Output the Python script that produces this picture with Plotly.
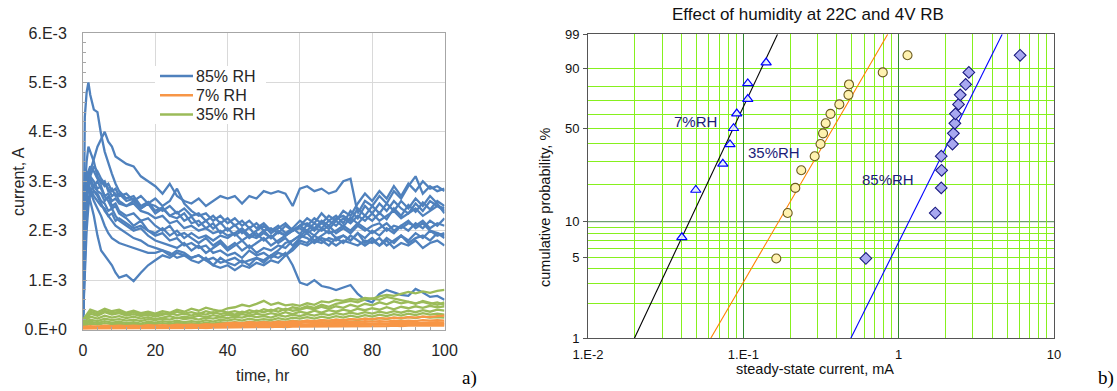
import math
import plotly.graph_objects as go

# ================= Panel a): current (mA, i.e. 1E-3 A) vs time =================
t_hr = [0, 0.5, 1, 1.5, 2, 3, 4, 5, 6, 7, 8, 9, 10,
        12, 14, 16, 18, 20, 22, 24, 26, 28, 30, 32, 34, 36, 38, 40, 42, 44, 46, 48, 50,
        52, 54, 56, 58, 60, 62, 64, 66, 68, 70, 72, 74, 76, 78, 80, 82, 84, 86, 88, 90,
        92, 94, 96, 98, 100]

rh85_1 = [0.3, 4.3, 4.8, 5.0, 4.75, 4.45, 4.4, 3.95, 3.6, 3.35, 3.15, 2.95, 2.8,
          2.65, 2.7, 2.5, 2.58, 2.4, 2.47, 2.3, 2.38, 2.2, 2.28, 2.1, 2.2, 2.04, 2.17, 2.0, 2.12,
          1.95, 2.06, 1.88, 2.0, 1.85, 1.97, 1.9, 2.05, 1.93, 2.12, 2.0, 2.16, 2.03, 2.2, 2.08,
          2.27, 2.14, 2.3, 2.2, 2.36, 2.23, 2.45, 2.3, 2.52, 2.38, 2.57, 2.43, 2.6, 2.5]
rh85_2 = [0.4, 1.9, 2.6, 3.0, 3.2, 3.45, 3.7, 3.85, 4.0, 3.8, 3.7, 3.5, 3.45,
          3.35, 3.3, 3.1, 3.0, 2.9, 2.75, 2.95, 2.7, 2.6, 2.55, 2.65, 2.5, 2.6, 2.7, 2.65, 2.7,
          2.55, 2.7, 2.65, 2.8, 2.75, 2.8, 2.75, 2.5, 2.85, 2.9, 2.8, 2.85, 2.75, 2.8, 3.0,
          3.05, 2.35, 2.6, 2.5, 2.7, 2.55, 2.8, 2.65, 2.9, 3.1, 2.75, 2.9, 2.8, 2.85]
rh85_3 = [0.5, 2.8, 3.4, 3.7, 3.6, 3.4, 3.1, 2.95, 3.0, 2.8, 2.85, 2.7, 2.75,
          2.6, 2.65, 2.45, 2.55, 2.35, 2.45, 2.3, 2.25, 2.35, 2.15, 2.2, 2.05, 2.15, 1.95, 2.05, 1.9,
          2.0, 1.85, 1.95, 1.8, 1.9, 1.75, 1.85, 1.7, 1.85, 1.95, 1.8, 1.9, 2.0, 1.85, 1.9,
          1.8, 1.95, 1.75, 1.85, 1.7, 1.8, 1.65, 1.75, 1.7, 1.8, 1.65, 1.75, 1.8, 1.7]
rh85_4 = [0.2, 1.5, 2.4, 2.7, 2.6, 2.3, 1.9, 1.6, 1.5, 1.4, 1.3, 1.15, 1.05,
          1.1, 0.98, 1.15, 1.3, 1.4, 1.5, 1.45, 1.55, 1.5, 1.45, 1.5, 1.4, 1.45, 1.35, 1.4, 1.45,
          1.35, 1.4, 1.45, 1.4, 1.5, 1.45, 1.55, 1.3, 0.95, 0.9, 1.0, 0.88, 0.85, 0.8, 0.85,
          0.9, 0.72, 0.6, 0.55, 0.72, 0.8, 0.75, 0.7, 0.68, 0.82, 0.75, 0.66, 0.68, 0.6]
rh85_5 = [0.3, 2.2, 2.8, 2.9, 2.8, 2.6, 2.45, 2.3, 2.1, 1.95, 1.85, 1.8, 1.75,
          1.7, 1.65, 1.6, 1.55, 1.55, 1.6, 1.5, 1.6, 1.55, 1.45, 1.5, 1.4, 1.3, 1.45, 1.35, 1.3,
          1.4, 1.3, 1.45, 1.35, 1.5, 1.6, 1.75, 1.8, 1.9, 1.85, 1.75, 1.85, 1.8, 1.7, 1.8,
          1.75, 1.7, 1.8, 1.75, 1.85, 1.7, 1.8, 1.9, 1.75, 1.85, 1.9, 1.8, 1.95, 1.9]
rh85_6 = [0.4, 2.5, 3.1, 3.2, 3.05, 2.9, 2.8, 2.75, 2.6, 2.7, 2.5, 2.55, 2.4,
          2.3, 2.35, 2.2, 2.25, 2.1, 2.0, 2.1, 1.9, 1.95, 1.85, 1.75, 1.85, 1.7, 1.8, 1.65, 1.75,
          1.6, 1.7, 1.55, 1.65, 1.6, 1.7, 1.65, 1.8, 1.9, 2.0, 1.9, 2.05, 1.95, 2.0, 2.1,
          2.0, 2.15, 2.05, 1.95, 2.05, 2.15, 2.0, 2.1, 2.2, 2.05, 2.15, 2.0, 1.95, 1.85]
rh85_7 = [0.2, 2.0, 2.7, 3.0, 3.1, 3.0, 2.85, 2.9, 2.7, 2.75, 2.6, 2.65, 2.55,
          2.5, 2.6, 2.45, 2.55, 2.5, 2.4, 2.5, 2.35, 2.45, 2.3, 2.35, 2.2, 2.3, 2.15, 2.25, 2.1,
          2.2, 2.05, 2.15, 2.0, 2.05, 1.95, 2.1, 2.0, 2.1, 2.15, 2.05, 2.2, 2.1, 2.25, 2.3,
          2.2, 2.45, 2.3, 2.5, 2.35, 2.55, 2.4, 2.6, 2.45, 2.65, 2.5, 2.7, 2.55, 2.35]
rh85_8 = [0.3, 1.6, 2.3, 2.6, 2.8, 2.9, 3.0, 2.85, 2.7, 2.6, 2.45, 2.5, 2.35,
          2.25, 2.1, 2.2, 2.0, 1.9, 1.95, 1.8, 1.85, 1.7, 1.75, 1.65, 1.7, 1.55, 1.6, 1.5, 1.55,
          1.45, 1.6, 1.5, 1.55, 1.45, 1.55, 1.5, 1.65, 1.8, 1.75, 1.9, 1.8, 1.7, 1.85, 1.75,
          1.9, 1.8, 1.7, 1.8, 1.7, 1.85, 1.75, 1.9, 1.8, 1.95, 1.85, 2.0, 1.9, 1.95]
rh85_9 = [0.3, 2.3, 2.9, 3.1, 3.0, 2.8, 2.75, 2.6, 2.55, 2.4, 2.45, 2.3, 2.2,
          2.1, 2.0, 2.05, 1.9, 1.8, 1.75, 1.7, 1.65, 1.75, 1.6, 1.7, 1.55, 1.65, 1.75, 1.6, 1.7,
          1.8, 1.65, 1.75, 1.85, 1.7, 1.8, 1.9, 2.0, 2.1, 2.0, 2.15, 2.05, 2.2, 2.1, 2.25,
          2.15, 2.3, 2.2, 2.35, 2.2, 2.3, 2.4, 2.25, 2.35, 2.45, 2.3, 2.4, 2.5, 2.4]
rh85_10 = [0.4, 2.6, 3.0, 2.95, 2.85, 2.7, 2.6, 2.5, 2.45, 2.3, 2.35, 2.2, 2.25,
           2.15, 2.05, 2.1, 2.0, 1.95, 2.05, 1.9, 2.0, 1.85, 1.95, 1.85, 1.9, 1.8, 1.9, 1.85, 1.95,
           1.8, 1.9, 1.85, 1.95, 1.85, 2.0, 1.9, 2.0, 2.05, 1.95, 2.05, 2.0, 2.1, 1.95, 2.05,
           1.95, 2.1, 2.0, 2.1, 2.15, 2.0, 2.1, 2.05, 2.15, 2.1, 2.2, 2.05, 2.15, 2.1]
rh85_11 = [0.3, 2.4, 2.9, 3.2, 3.3, 3.2, 3.05, 3.0, 2.9, 2.95, 2.8, 2.85, 2.7,
           2.75, 2.6, 2.7, 2.55, 2.65, 2.5, 2.6, 2.85, 2.55, 2.4, 2.3, 2.35, 2.2, 2.3, 2.15, 2.25,
           2.1, 2.2, 2.05, 2.15, 2.0, 2.1, 1.95, 2.05, 2.2, 2.1, 2.25, 2.15, 2.3, 2.2, 2.4,
           2.3, 2.55, 2.75, 2.6, 2.8, 2.65, 2.9, 2.7, 2.95, 2.8, 3.0, 2.85, 2.9, 2.8]
rh85_12 = [0.2, 1.2, 2.0, 2.5, 2.75, 2.8, 2.7, 2.55, 2.4, 2.3, 2.2, 2.1, 2.05,
           1.95, 1.85, 1.8, 1.7, 1.65, 1.6, 1.55, 1.45, 1.5, 1.4, 1.35, 1.45, 1.3, 1.25, 1.3, 1.2,
           1.3, 1.25, 1.35, 1.3, 1.4, 1.35, 1.5, 1.6, 1.75, 1.7, 1.8, 1.75, 1.85, 1.8, 1.9,
           1.8, 1.95, 1.85, 2.0, 1.9, 2.05, 1.95, 2.1, 2.0, 2.15, 2.05, 2.2, 2.1, 2.25]
rh85_13 = [0.3, 1.8, 2.6, 2.9, 3.1, 3.3, 3.2, 3.05, 2.95, 2.85, 2.7, 2.75, 2.6,
           2.5, 2.55, 2.4, 2.35, 2.25, 2.3, 2.15, 2.2, 2.05, 2.1, 2.0, 2.05, 1.95, 2.0, 1.9, 1.95,
           2.05, 1.9, 2.0, 2.1, 1.95, 2.05, 2.15, 2.0, 2.1, 2.25, 2.15, 2.35, 2.2, 2.3, 2.15,
           2.4, 2.25, 2.5, 2.35, 2.55, 2.4, 2.6, 2.45, 2.35, 2.55, 2.4, 2.6, 2.5, 2.45]

t_low = [0, 2, 4, 6, 8, 10, 12, 14, 16, 18, 20, 22, 24, 26, 28, 30, 32, 34, 36, 38, 40,
         42, 44, 46, 48, 50, 52, 54, 56, 58, 60, 62, 64, 66, 68, 70, 72, 74, 76, 78, 80,
         82, 84, 86, 88, 90, 92, 94, 96, 98, 100]

rh35_1 = [0.2, 0.4, 0.35, 0.42, 0.37, 0.4, 0.34, 0.38, 0.33, 0.36, 0.32, 0.37, 0.34, 0.4, 0.36,
          0.42, 0.38, 0.44, 0.4, 0.37, 0.43, 0.45, 0.5, 0.47, 0.52, 0.58, 0.5, 0.54, 0.49, 0.51,
          0.48, 0.53, 0.5, 0.57, 0.55, 0.6, 0.58, 0.62, 0.6, 0.64, 0.62, 0.67, 0.7, 0.68, 0.72,
          0.76, 0.73, 0.77, 0.74, 0.78, 0.8]
rh35_2 = [0.15, 0.32, 0.28, 0.35, 0.3, 0.33, 0.28, 0.31, 0.27, 0.3, 0.26, 0.3, 0.33, 0.29, 0.32,
          0.28, 0.33, 0.3, 0.35, 0.31, 0.34, 0.3, 0.36, 0.33, 0.38, 0.35, 0.4, 0.36, 0.42, 0.38,
          0.4, 0.44, 0.41, 0.46, 0.42, 0.47, 0.44, 0.5, 0.46, 0.52, 0.49, 0.55, 0.51, 0.57, 0.53,
          0.56, 0.52, 0.58, 0.54, 0.5, 0.55]
rh35_3 = [0.12, 0.26, 0.22, 0.28, 0.24, 0.27, 0.23, 0.26, 0.22, 0.25, 0.21, 0.24, 0.27, 0.23, 0.26,
          0.24, 0.28, 0.25, 0.29, 0.26, 0.3, 0.27, 0.31, 0.28, 0.32, 0.29, 0.33, 0.3, 0.35, 0.31,
          0.36, 0.33, 0.38, 0.34, 0.39, 0.36, 0.4, 0.37, 0.42, 0.39, 0.43, 0.4, 0.45, 0.41, 0.46,
          0.43, 0.47, 0.44, 0.48, 0.45, 0.47]
rh35_4 = [0.1, 0.2, 0.17, 0.22, 0.19, 0.21, 0.18, 0.2, 0.17, 0.21, 0.19, 0.22, 0.2, 0.24, 0.21,
          0.23, 0.2, 0.24, 0.22, 0.25, 0.23, 0.26, 0.24, 0.28, 0.25, 0.27, 0.24, 0.29, 0.26, 0.3,
          0.27, 0.31, 0.28, 0.32, 0.29, 0.33, 0.3, 0.34, 0.31, 0.35, 0.32, 0.36, 0.33, 0.37, 0.34,
          0.38, 0.35, 0.39, 0.36, 0.4, 0.38]
rh35_5 = [0.08, 0.16, 0.13, 0.17, 0.14, 0.16, 0.13, 0.15, 0.12, 0.16, 0.14, 0.17, 0.15, 0.18, 0.15,
          0.17, 0.15, 0.19, 0.16, 0.2, 0.18, 0.21, 0.18, 0.22, 0.19, 0.21, 0.19, 0.23, 0.2, 0.24,
          0.22, 0.25, 0.22, 0.26, 0.23, 0.27, 0.24, 0.28, 0.25, 0.29, 0.26, 0.3, 0.27, 0.31, 0.28,
          0.32, 0.29, 0.33, 0.3, 0.32, 0.3]
rh35_6 = [0.18, 0.36, 0.31, 0.38, 0.33, 0.36, 0.31, 0.35, 0.3, 0.34, 0.29, 0.33, 0.3, 0.36, 0.32,
          0.35, 0.31, 0.37, 0.33, 0.38, 0.34, 0.37, 0.33, 0.39, 0.35, 0.41, 0.37, 0.43, 0.39, 0.45,
          0.42, 0.47, 0.44, 0.5, 0.46, 0.52, 0.55, 0.58, 0.55, 0.61, 0.63, 0.6, 0.66, 0.63, 0.6,
          0.57, 0.53, 0.56, 0.52, 0.55, 0.5]
rh35_7 = [0.06, 0.12, 0.1, 0.13, 0.11, 0.12, 0.1, 0.12, 0.09, 0.12, 0.11, 0.13, 0.11, 0.14, 0.12,
          0.13, 0.11, 0.14, 0.12, 0.15, 0.13, 0.15, 0.13, 0.16, 0.14, 0.16, 0.14, 0.17, 0.15, 0.18,
          0.16, 0.18, 0.16, 0.19, 0.17, 0.2, 0.18, 0.21, 0.19, 0.22, 0.2, 0.23, 0.21, 0.24, 0.22,
          0.25, 0.23, 0.26, 0.24, 0.25, 0.24]

rh7_1 = [0.05, 0.07, 0.06, 0.08, 0.07, 0.08, 0.07, 0.08, 0.07, 0.09, 0.08, 0.09, 0.08, 0.1, 0.09,
         0.1, 0.09, 0.11, 0.1, 0.12, 0.13, 0.14, 0.13, 0.15, 0.14, 0.15, 0.14, 0.16, 0.15, 0.17,
         0.16, 0.18, 0.17, 0.19, 0.18, 0.2, 0.19, 0.21, 0.2, 0.22, 0.21, 0.23, 0.22, 0.24, 0.23,
         0.25, 0.24, 0.26, 0.25, 0.27, 0.28]
rh7_2 = [0.04, 0.05, 0.05, 0.06, 0.05, 0.06, 0.05, 0.06, 0.06, 0.07, 0.06, 0.07, 0.07, 0.08, 0.07,
         0.08, 0.08, 0.09, 0.08, 0.1, 0.11, 0.12, 0.11, 0.12, 0.12, 0.13, 0.12, 0.14, 0.13, 0.14,
         0.13, 0.15, 0.14, 0.15, 0.14, 0.16, 0.15, 0.16, 0.15, 0.17, 0.16, 0.17, 0.16, 0.18, 0.17,
         0.18, 0.17, 0.19, 0.18, 0.19, 0.18]
rh7_3 = [0.03, 0.04, 0.04, 0.04, 0.05, 0.04, 0.05, 0.04, 0.05, 0.05, 0.05, 0.06, 0.05, 0.06, 0.06,
         0.06, 0.07, 0.06, 0.07, 0.08, 0.09, 0.08, 0.09, 0.1, 0.09, 0.1, 0.09, 0.1, 0.1, 0.11,
         0.1, 0.11, 0.11, 0.12, 0.11, 0.12, 0.11, 0.12, 0.12, 0.13, 0.12, 0.13, 0.12, 0.14, 0.13,
         0.14, 0.13, 0.14, 0.14, 0.15, 0.14]
rh7_4 = [0.02, 0.03, 0.03, 0.03, 0.03, 0.03, 0.04, 0.03, 0.04, 0.04, 0.04, 0.04, 0.04, 0.05, 0.04,
         0.05, 0.05, 0.05, 0.05, 0.06, 0.07, 0.06, 0.07, 0.07, 0.07, 0.08, 0.07, 0.08, 0.08, 0.08,
         0.08, 0.09, 0.08, 0.09, 0.09, 0.09, 0.09, 0.1, 0.09, 0.1, 0.1, 0.1, 0.1, 0.11, 0.1,
         0.11, 0.11, 0.11, 0.11, 0.12, 0.11]
rh7_5 = [0.02, 0.02, 0.02, 0.02, 0.02, 0.02, 0.02, 0.03, 0.02, 0.03, 0.03, 0.03, 0.03, 0.03, 0.03,
         0.03, 0.04, 0.03, 0.04, 0.04, 0.05, 0.05, 0.05, 0.05, 0.05, 0.05, 0.05, 0.06, 0.05, 0.06,
         0.06, 0.06, 0.06, 0.06, 0.06, 0.07, 0.06, 0.07, 0.07, 0.07, 0.07, 0.07, 0.07, 0.08, 0.07,
         0.08, 0.08, 0.08, 0.08, 0.08, 0.08]

current_ticks = [0, 1, 2, 3, 4, 5, 6]
current_ticktext = ["0.E+0", "1.E-3", "2.E-3", "3.E-3", "4.E-3", "5.E-3", "6.E-3"]
time_ticks = [0, 20, 40, 60, 80, 100]

# ================= Panel b): Weibull probability plot =================
x_7rh = [0.0402, 0.0494, 0.0738, 0.0820, 0.0865, 0.0907, 0.1068, 0.1068, 0.1402]
p_7rh = [7.4, 18.1, 28.7, 39.4, 50.0, 60.6, 71.3, 81.9, 92.6]
x_35rh = [0.163, 0.193, 0.216, 0.236, 0.288, 0.314, 0.326, 0.339, 0.364, 0.415, 0.475, 0.479, 0.79, 1.14]
p_35rh = [4.9, 11.8, 18.8, 25.7, 32.6, 39.6, 46.5, 53.5, 60.4, 67.4, 74.3, 81.3, 88.2, 95.1]
x_85rh = [0.615, 1.72, 1.88, 1.89, 1.88, 2.22, 2.25, 2.30, 2.32, 2.43, 2.49, 2.70, 2.83, 6.05]
p_85rh = [4.9, 11.8, 18.8, 25.7, 32.6, 39.6, 46.5, 53.5, 60.4, 67.4, 74.3, 81.3, 88.2, 95.1]

fit_p = [1, 99]
fit_7rh = [0.0199, 0.166]
fit_35rh = [0.0617, 0.85]
fit_85rh = [0.492, 4.64]

prob_ticks = [1, 5, 10, 50, 90, 99]
prob_grid = [2, 3, 4, 5, 6, 7, 8, 9, 20, 30, 40, 50, 60, 70, 80, 90]
cur_ticks = [0.01, 0.1, 1, 10]
cur_ticktext = ["1.E-2", "1.E-1", "1", "10"]
cur_minor = [0.02, 0.03, 0.04, 0.05, 0.06, 0.07, 0.08, 0.09,
             0.2, 0.3, 0.4, 0.5, 0.6, 0.7, 0.8, 0.9,
             2, 3, 4, 5, 6, 7, 8, 9]


def weib(p):
    """Weibull probability-paper scale: ln(-ln(1 - F))."""
    return math.log(-math.log(1 - p / 100.0))


W, H = 1117, 391
def px(x):
    return x / W
def py(y):
    return 1 - y / H

FONT = "Arial, Liberation Sans, sans-serif"
BLUE, ORANGE, GREEN = "#4f81bd", "#f79646", "#9bbb59"

fig = go.Figure()

groups = [
    ("85% RH", BLUE, [rh85_1, rh85_2, rh85_3, rh85_4, rh85_5, rh85_6, rh85_7, rh85_8,
                      rh85_9, rh85_10, rh85_11, rh85_12, rh85_13], t_hr),
    ("35% RH", GREEN, [rh35_1, rh35_2, rh35_3, rh35_4, rh35_5, rh35_6, rh35_7], t_low),
    ("7% RH", ORANGE, [rh7_1, rh7_2, rh7_3, rh7_4, rh7_5], t_low),
]
for name, color, runs, tt in groups:
    for i, run in enumerate(runs):
        fig.add_trace(go.Scatter(
            x=tt, y=run, mode="lines", name=name, legendgroup=name, showlegend=False,
            line=dict(color=color, width=2.3), xaxis="x", yaxis="y"))

# panel b traces
for xs, col in [(fit_7rh, "#000000"), (fit_35rh, "#ff8000"), (fit_85rh, "#0000ff")]:
    fig.add_trace(go.Scatter(x=xs, y=[weib(p) for p in fit_p], mode="lines",
                             line=dict(color=col, width=1.1), showlegend=False,
                             xaxis="x2", yaxis="y2"))
fig.add_trace(go.Scatter(x=x_7rh, y=[weib(p) for p in p_7rh], mode="markers",
                         marker=dict(symbol="triangle-up", size=9, color="rgba(230,240,255,0.9)",
                                     line=dict(color="#0000ff", width=1.2)),
                         showlegend=False, xaxis="x2", yaxis="y2"))
fig.add_trace(go.Scatter(x=x_35rh, y=[weib(p) for p in p_35rh], mode="markers",
                         marker=dict(symbol="circle", size=9, color="#fff2b0",
                                     line=dict(color="#6b5a1e", width=1.1)),
                         showlegend=False, xaxis="x2", yaxis="y2"))
fig.add_trace(go.Scatter(x=x_85rh, y=[weib(p) for p in p_85rh], mode="markers",
                         marker=dict(symbol="diamond", size=9, color="#a8a8f0",
                                     line=dict(color="#1a1a80", width=1.1)),
                         showlegend=False, xaxis="x2", yaxis="y2"))

BRIGHT = "#86f01e"
DARK = "#2f8a2f"

fig.update_layout(
    template="none",
    width=W, height=H, autosize=False,
    margin=dict(l=0, r=0, t=0, b=0, autoexpand=False),
    paper_bgcolor="white", plot_bgcolor="white",
    font=dict(family=FONT, size=16, color="#262626"),
    showlegend=False,
    xaxis=dict(domain=[px(83), px(444.5)], range=[0, 100], tickvals=time_ticks,
               showgrid=True, gridcolor="#d9d9d9", gridwidth=1, zeroline=False,
               showline=True, linecolor="#a6a6a6", linewidth=1, mirror=True,
               ticks="inside", ticklen=4, tickcolor="#a6a6a6",
               minor=dict(dtick=4, ticks="inside", ticklen=3, tickcolor="#a6a6a6", showgrid=False),
               ticklabelstandoff=6, tickfont=dict(size=16), anchor="y", automargin=False),
    yaxis=dict(domain=[py(329.5), py(33)], range=[0, 6], tickvals=current_ticks,
               ticktext=current_ticktext,
               showgrid=True, gridcolor="#d9d9d9", gridwidth=1, zeroline=False,
               showline=True, linecolor="#a6a6a6", linewidth=1, mirror=True,
               ticks="inside", ticklen=4, tickcolor="#a6a6a6",
               minor=dict(dtick=0.2, ticks="inside", ticklen=3, tickcolor="#a6a6a6", showgrid=False),
               ticklabelstandoff=12, tickfont=dict(size=16), anchor="x", automargin=False),
    xaxis2=dict(domain=[px(588), px(1054)], type="log", range=[-2, 1],
                tickmode="array", tickvals=cur_ticks, ticktext=cur_ticktext,
                showgrid=True, gridcolor=DARK, gridwidth=1, zeroline=False,
                showline=True, linecolor="#555555", linewidth=1, mirror=True,
                ticks="", ticklabelstandoff=4, tickfont=dict(size=13, color="#111111"),
                minor=dict(tickmode="array", tickvals=cur_minor, showgrid=True,
                           gridcolor=BRIGHT, gridwidth=1, ticks=""),
                anchor="y2", automargin=False),
    yaxis2=dict(domain=[py(338.3), py(34.3)], range=[weib(1), weib(99)],
                tickmode="array", tickvals=[weib(p) for p in prob_ticks],
                ticktext=[str(p) for p in prob_ticks],
                showgrid=False, zeroline=False,
                showline=True, linecolor="#555555", linewidth=1, mirror=True,
                ticks="outside", ticklen=4, tickcolor="#555555",
                ticklabelstandoff=1, tickfont=dict(size=13, color="#111111"),
                minor=dict(tickmode="array", tickvals=[weib(p) for p in prob_grid],
                           showgrid=True, gridcolor=BRIGHT, gridwidth=1, ticks=""),
                anchor="x2", automargin=False),
)

# darker 10 % line of the probability grid
fig.add_shape(type="line", xref="x2 domain", x0=0, x1=1, yref="y2",
              y0=weib(10), y1=weib(10), line=dict(color="#6f9f6f", width=1.2), layer="below")

# legend box of panel a (rows 19 px apart, as in the original)
legend_names = ["85% RH", "7% RH", "35% RH"]
legend_colors = [BLUE, ORANGE, GREEN]
fig.add_shape(type="rect", xref="paper", yref="paper", x0=px(155), x1=px(266),
              y0=py(124), y1=py(66), fillcolor="white", line=dict(width=0), layer="above")

ann = []
def text(x, y, s, size, color="#262626", angle=0, xanchor="center", family=FONT):
    ann.append(dict(x=px(x), y=py(y), xref="paper", yref="paper", text=s, showarrow=False,
                    textangle=angle, xanchor=xanchor, yanchor="middle",
                    font=dict(family=family, size=size, color=color)))

for i, (nm, col) in enumerate(zip(legend_names, legend_colors)):
    yy = 76 + 19.2 * i
    fig.add_shape(type="line", xref="paper", yref="paper", x0=px(160), x1=px(193),
                  y0=py(yy), y1=py(yy), line=dict(color=col, width=2.5), layer="above")
    text(194, yy, nm, 16, xanchor="left")

text(263, 375, "time, hr", 16)
text(18, 182, "current, A", 16, angle=-90)
text(469, 378, "a)", 19, color="#000000", family="Liberation Serif, Times New Roman, serif")
text(1106, 378, "b)", 19, color="#000000", family="Liberation Serif, Times New Roman, serif")
text(808, 15, "Effect of humidity at 22C and 4V RB", 17, color="#111111")
text(815, 369, "steady-state current, mA", 14.5, color="#111111")
text(545, 208, "cumulative probability, %", 14.5, color="#111111", angle=-90)
text(672, 121, "7%RH", 15, color="#1c1c78", xanchor="left")
text(746, 153, "35%RH", 15, color="#1c1c78", xanchor="left")
text(860, 179, "85%RH", 15, color="#1c1c78", xanchor="left")
fig.update_layout(annotations=ann)

# the page body otherwise keeps the browser's default 8 px margin
fig.write_html("out.html", config={"displayModeBar": False},
               post_script="document.body.style.margin='0px';")
